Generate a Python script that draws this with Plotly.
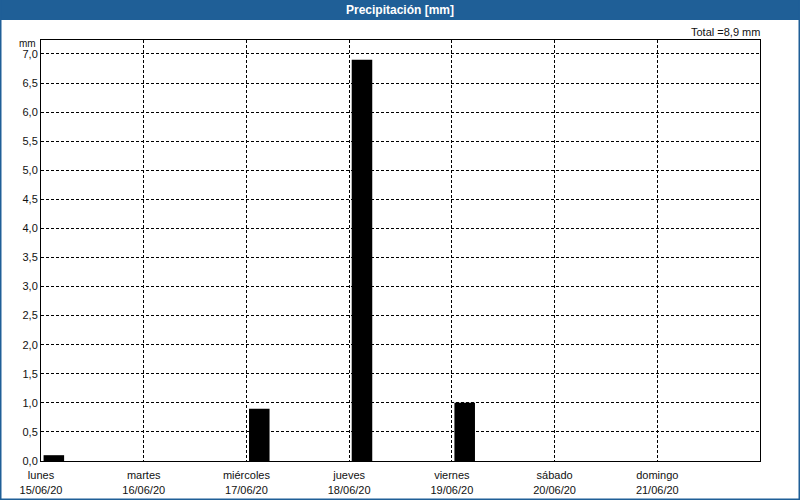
import plotly.graph_objects as go

days = ["lunes", "martes", "miércoles", "jueves", "viernes", "sábado", "domingo"]
dates = ["15/06/20", "16/06/20", "17/06/20", "18/06/20", "19/06/20", "20/06/20", "21/06/20"]
precip = [0.1, 0.0, 0.9, 6.9, 1.0, 0.0, 0.0]
y_ticks = [0.0, 0.5, 1.0, 1.5, 2.0, 2.5, 3.0, 3.5, 4.0, 4.5, 5.0, 5.5, 6.0, 6.5, 7.0]
title = "Precipitación [mm]"
total = sum(precip)

W, H = 800, 500
L, R, T, B = 41, 760, 40, 461
blue = "#1f5f97"
font = "Liberation Sans, DejaVu Sans, sans-serif"

xpos = [i + 0.125 for i in range(len(days))]

fig = go.Figure()
fig.add_trace(go.Bar(x=xpos, y=precip, width=0.2, marker=dict(color="black", line=dict(width=0)),
                     hoverinfo="skip"))

def px(x):
    return (x - L) / (R - L)

def py(y):
    return (B - y) / (B - T)

fig.update_layout(
    width=W, height=H,
    margin=dict(l=L, r=W - R, t=T, b=H - B, pad=0),
    paper_bgcolor="white", plot_bgcolor="white",
    showlegend=False,
    font=dict(family=font, size=11, color="#111111"),
    xaxis=dict(range=[0, 7], tickvals=list(range(7)),
               ticktext=[f"{d}<br>{dt}" for d, dt in zip(days, dates)],
               showgrid=True, gridcolor="black", griddash="3px,2px", gridwidth=1,
               showline=True, linecolor="black", linewidth=1, mirror=True,
               ticks="", zeroline=False, tickfont=dict(size=11), automargin=False,
               ticklabelstandoff=4),
    yaxis=dict(range=[0, 7.24], tickvals=y_ticks,
               ticktext=[f"{v:.1f}".replace(".", ",") for v in y_ticks],
               showgrid=True, gridcolor="black", griddash="3px,2px", gridwidth=1,
               showline=True, linecolor="black", linewidth=1, mirror=True,
               ticks="", zeroline=False, tickfont=dict(size=11), automargin=False),
    shapes=[
        dict(type="rect", xref="paper", yref="paper", x0=px(0), x1=px(W), y0=py(0), y1=py(20),
             fillcolor=blue, line=dict(width=0), layer="above"),
        dict(type="rect", xref="paper", yref="paper", x0=px(0), x1=px(1.5), y0=py(0), y1=py(H),
             fillcolor=blue, line=dict(width=0), layer="above"),
        dict(type="rect", xref="paper", yref="paper", x0=px(W - 1.5), x1=px(W), y0=py(0), y1=py(H),
             fillcolor=blue, line=dict(width=0), layer="above"),
        dict(type="rect", xref="paper", yref="paper", x0=px(0), x1=px(W), y0=py(H - 1.5), y1=py(H),
             fillcolor=blue, line=dict(width=0), layer="above"),
    ],
    annotations=[
        dict(text=f"<b>{title}</b>", xref="paper", yref="paper", x=px(W / 2), y=py(10),
             xanchor="center", yanchor="middle", showarrow=False,
             font=dict(family=font, size=12, color="white")),
        dict(text=f"Total ={total:.1f} mm".replace(".", ","), xref="paper", yref="paper",
             x=px(762), y=py(32), xanchor="right", yanchor="middle", showarrow=False,
             font=dict(family=font, size=11, color="#111111")),
        dict(text="mm", xref="paper", yref="paper", x=px(38), y=py(43.5),
             xanchor="right", yanchor="middle", showarrow=False,
             font=dict(family=font, size=10, color="#111111")),
    ],
)

fig.write_html("out.html")
